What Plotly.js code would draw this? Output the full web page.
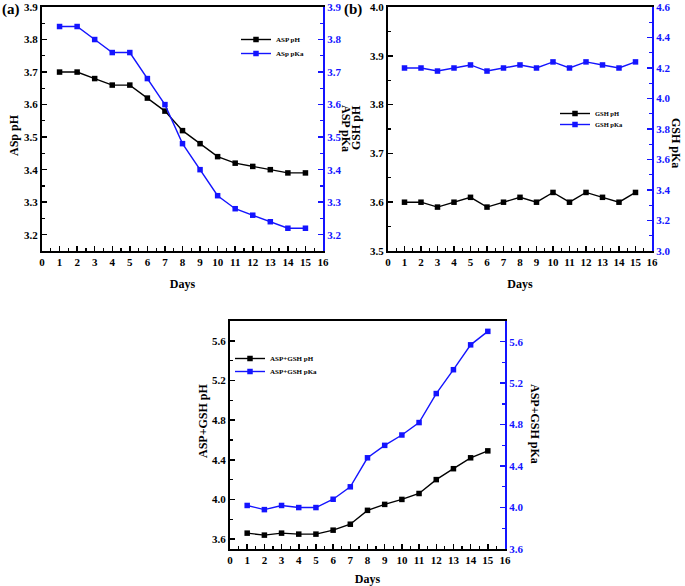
<!DOCTYPE html>
<html>
<head>
<meta charset="utf-8">
<script src="https://cdn.plot.ly/plotly-3.0.1.min.js"></script>
<style>
  html, body { margin: 0; padding: 0; background: #fff; }
  #chart { width: 685px; height: 586px; }
</style>
</head>
<body>
<div id="chart"></div>
<script>
// Storage days
const days = [1, 2, 3, 4, 5, 6, 7, 8, 9, 10, 11, 12, 13, 14, 15];

// (a) aspartic acid
const aspPH  = [3.70, 3.70, 3.68, 3.66, 3.66, 3.62, 3.58, 3.52, 3.48, 3.44, 3.42, 3.41, 3.40, 3.39, 3.39];
const aspPKa = [3.84, 3.84, 3.80, 3.76, 3.76, 3.68, 3.60, 3.48, 3.40, 3.32, 3.28, 3.26, 3.24, 3.22, 3.22];

// (b) glutathione
const gshPH  = [3.60, 3.60, 3.59, 3.60, 3.61, 3.59, 3.60, 3.61, 3.60, 3.62, 3.60, 3.62, 3.61, 3.60, 3.62];
const gshPKa = [4.20, 4.20, 4.18, 4.20, 4.22, 4.18, 4.20, 4.22, 4.20, 4.24, 4.20, 4.24, 4.22, 4.20, 4.24];

// (c) aspartic acid + glutathione
const mixPH  = [3.66, 3.64, 3.66, 3.65, 3.65, 3.69, 3.75, 3.89, 3.95, 4.00, 4.06, 4.20, 4.31, 4.42, 4.49];
const mixPKa = [4.02, 3.98, 4.02, 4.00, 4.00, 4.08, 4.20, 4.48, 4.60, 4.70, 4.82, 5.10, 5.33, 5.57, 5.70];

const names = {
  aspPH: 'ASP pH', aspPKa: 'ASp pKa',
  gshPH: 'GSH pH', gshPKa: 'GSH pKa',
  mixPH: 'ASP+GSH pH', mixPKa: 'ASP+GSH pKa'
};

const W = 685, H = 586;
const BLACK = '#000000', BLUE = '#1414ff';
const SERIF = 'Liberation Serif, Times New Roman, serif';

function px(x0, x1) { return [x0 / W, x1 / W]; }
function py(top, bottom) { return [1 - bottom / H, 1 - top / H]; }

function series(x, y, name, color, xa, ya, legend) {
  return {
    x: x, y: y, name: name, type: 'scatter', mode: 'lines+markers',
    xaxis: xa, yaxis: ya, legend: legend,
    line: { color: color, width: 1.4 },
    marker: { symbol: 'square', size: 5.5, color: color }
  };
}

// one legend per series so each entry sits exactly where wanted
const traces = [
  series(days, aspPH,  names.aspPH,  BLACK, 'x',  'y',  'legend'),
  series(days, aspPKa, names.aspPKa, BLUE,  'x',  'y2', 'legend2'),
  series(days, gshPH,  names.gshPH,  BLACK, 'x2', 'y3', 'legend3'),
  series(days, gshPKa, names.gshPKa, BLUE,  'x2', 'y4', 'legend4'),
  series(days, mixPH,  names.mixPH,  BLACK, 'x3', 'y5', 'legend5'),
  series(days, mixPKa, names.mixPKa, BLUE,  'x3', 'y6', 'legend6')
];

const tickFont = { family: SERIF, size: 11, weight: 'bold', color: BLACK };
const blueTickFont = { family: SERIF, size: 11, weight: 'bold', color: BLUE };
const titleFont = { family: SERIF, size: 12, weight: 'bold', color: BLACK };

function xAxis(domain, anchor) {
  return {
    domain: domain, anchor: anchor, range: [0, 16], dtick: 1, tick0: 0,
    showgrid: false, zeroline: false,
    showline: true, linecolor: BLACK, linewidth: 2, mirror: true,
    ticks: 'inside', ticklen: 5, tickwidth: 1.5, tickcolor: BLACK,
    minor: { ticks: 'inside', ticklen: 3, dtick: 0.5, tickcolor: BLACK, tickwidth: 1.2 },
    tickfont: tickFont,
    title: { text: 'Days', font: titleFont, standoff: 12 }
  };
}

function yLeft(domain, anchor, range, tick0, dtick, minorDtick) {
  return {
    domain: domain, anchor: anchor, range: range, dtick: dtick, tick0: tick0,
    showgrid: false, zeroline: false,
    showline: true, linecolor: BLACK, linewidth: 2,
    ticks: 'inside', ticklen: 5, tickwidth: 1.5, tickcolor: BLACK,
    minor: { ticks: 'inside', ticklen: 3, dtick: minorDtick, tickcolor: BLACK, tickwidth: 1.2 },
    tickfont: tickFont, tickformat: '.1f'
  };
}

function yRight(overlay, anchor, range, tick0, dtick, minorDtick) {
  return {
    overlaying: overlay, anchor: anchor, side: 'right',
    range: range, dtick: dtick, tick0: tick0,
    showgrid: false, zeroline: false,
    showline: true, linecolor: BLUE, linewidth: 2,
    ticks: 'inside', ticklen: 5, tickwidth: 1.5, tickcolor: BLUE,
    minor: { ticks: 'inside', ticklen: 3, dtick: minorDtick, tickcolor: BLUE, tickwidth: 1.2 },
    tickfont: blueTickFont, tickformat: '.1f'
  };
}

// legend placed by the pixel where its text starts and the row it sits on
function legendAt(textX, rowY, size) {
  return {
    x: (textX - 40) / W, y: 1 - (rowY - 14) / H, xanchor: 'left', yanchor: 'top',
    bgcolor: 'rgba(0,0,0,0)', borderwidth: 0,
    font: { family: SERIF, size: size, weight: 'bold', color: BLACK },
    itemwidth: 30
  };
}

function note(text, x, y, angle, size) {
  return {
    text: text, xref: 'paper', yref: 'paper', x: x / W, y: 1 - y / H,
    showarrow: false, textangle: angle || 0,
    font: { family: SERIF, size: size || 12, weight: 'bold', color: BLACK },
    xanchor: 'center', yanchor: 'middle'
  };
}

const topRow = py(7, 251);
const layout = {
  width: W, height: H,
  margin: { l: 0, r: 0, t: 0, b: 0 },
  paper_bgcolor: '#ffffff', plot_bgcolor: '#ffffff',
  showlegend: true,

  xaxis:  xAxis(px(42, 323), 'y'),
  yaxis:  yLeft(topRow, 'x', [3.15, 3.9], 3.2, 0.1, 0.05),
  yaxis2: yRight('y', 'x', [3.15, 3.9], 3.2, 0.1, 0.05),

  xaxis2: xAxis(px(388, 652), 'y3'),
  yaxis3: yLeft(topRow, 'x2', [3.5, 4.0], 3.5, 0.1, 0.05),
  yaxis4: yRight('y3', 'x2', [3.0, 4.6], 3.0, 0.2, 0.1),

  xaxis3: xAxis(px(230, 505), 'y5'),
  yaxis5: yLeft(py(321, 549), 'x3', [3.5, 5.8], 3.6, 0.4, 0.2),
  yaxis6: yRight('y5', 'x3', [3.6, 5.8], 3.6, 0.4, 0.2),

  legend:  legendAt(276, 39, 7),
  legend2: legendAt(276, 53, 7),
  legend3: legendAt(595, 113, 6.5),
  legend4: legendAt(595, 124, 6.5),
  legend5: legendAt(270, 358, 7),
  legend6: legendAt(270, 371, 7),

  annotations: [
    note('(a)', 11, 9, 0, 15),
    note('(b)', 353, 9, 0, 15),
    note('ASp pH', 14, 135, -90),
    note('ASP pKa', 346, 128, 90),
    note('GSH pH', 356, 128, -90),
    note('GSH pKa', 676, 143, 90),
    note('ASP+GSH pH', 203, 421, -90),
    note('ASP+GSH pKa', 535, 424, 90)
  ]
};

Plotly.newPlot('chart', traces, layout, { staticPlot: true });
</script>
</body>
</html>
